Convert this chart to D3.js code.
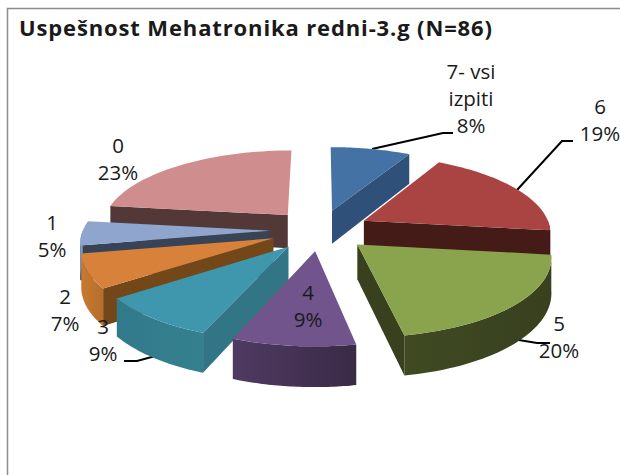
<!DOCTYPE html>
<html>
<head>
<meta charset="utf-8">
<script src="https://cdn.jsdelivr.net/npm/d3@7"></script>
<style>
  html, body { margin: 0; padding: 0; background: #fff; overflow: hidden; }
  text { font-family: "Open Sans", sans-serif; fill: #1a1a1a; }
</style>
</head>
<body>
<svg id="chart"></svg>
<script>
// Chart values, clockwise from 12 o'clock
const categories = ["7- vsi izpiti", "6", "5", "4", "3", "2", "1", "0"];
const percents = [8, 19, 20, 9, 9, 7, 5, 23];

// Colours per slice
const topColors = ["#4472a4", "#a94442", "#8aa44e", "#70548b", "#3f97ae", "#d8813b", "#8fa5cd", "#cf8e8d"];
const wallColors = ["#2f5078", "#451b18", "#38401e", "#3f2d4e", "#317586", "#744719", "#374357", "#533838"];
const rimFrom = ["#2f5078", "#451b18", "#3f4a22", "#4f3a62", "#317a8c", "#c9792f", "#8096bb", "#533838"];
const rimTo = ["#2f5078", "#451b18", "#38401e", "#3a2a46", "#35808f", "#b56f2c", "#8096bb", "#533838"];

// Label placement, one per slice, lines are split by hand like the original
const labelLines = [["7- vsi", "izpiti", "8%"], ["6", "19%"], ["5", "20%"], ["4", "9%"], ["3", "9%"], ["2", "7%"], ["1", "5%"], ["0", "23%"]];
const labelPos = [[471, 79], [600, 114], [559, 331], [308, 300], [103, 334], [65, 304], [52, 230], [118, 153]];
const labelStep = 27;
const leaders = [
  [[372, 149], [443, 133], [453, 133]],
  [[517, 190], [562, 141], [573, 141]],
  [[500, 337], [537, 343], [550, 343]],
  null,
  [[170, 352], [137, 361], [124, 361]],
  null, null, null
];

// Set up the SVG container
const svgWidth = 620;
const svgHeight = 475;
const svg = d3.select("#chart")
  .attr("width", svgWidth)
  .attr("height", svgHeight);

// Pie geometry
const cx = 320;
const cy = 230;
const radius = 187;
const explode = 50;
const squash = 0.41;
const depth = 34;
const perspective = 0.0007;

const pie = d3.pie().sort(null).value(d => d)(percents);

// plane coords to screen, near things get bigger
function project(x, y, z) {
  const s = 1 / (1 + y * perspective);
  return [cx + x * s, cy - y * squash * s + z * s];
}

function polar(offX, offY, r, a) {
  return [offX + r * Math.sin(a), offY + r * Math.cos(a)];
}

const slices = pie.map((p, i) => {
  const mid = (p.startAngle + p.endAngle) / 2;
  return {
    i: i,
    a0: p.startAngle,
    a1: p.endAngle,
    mid: mid,
    ox: explode * Math.sin(mid),
    oy: explode * Math.cos(mid)
  };
});

// paint far slices first
const order = slices.slice().sort((a, b) => d3.descending(Math.cos(a.mid), Math.cos(b.mid)));

const line = d3.line();
const defs = svg.append("defs");

// Frame of the chart area, only top and left show in the picture
svg.append("rect").attr("width", svgWidth).attr("height", svgHeight).attr("fill", "#fff");
svg.append("path")
  .attr("d", "M7.5,475V8.5H620")
  .attr("fill", "none")
  .attr("stroke", "#8c8c8c")
  .attr("stroke-width", 1.5);

// Leader lines go under the pie so they come out from behind the slices
leaders.forEach(pts => {
  if (!pts) return;
  svg.append("path")
    .attr("d", line(pts))
    .attr("fill", "none")
    .attr("stroke", "#000")
    .attr("stroke-width", 2);
});

const pieLayer = svg.append("g");

order.forEach(d => {
  const g = pieLayer.append("g");
  const steps = d3.range(0, 41).map(k => d.a0 + (d.a1 - d.a0) * k / 40);
  const apex = [d.ox, d.oy];
  const rim = steps.map(a => polar(d.ox, d.oy, radius, a));

  const face = pts => line(pts.map(p => project(p[0], p[1], 0)).concat(
    pts.slice().reverse().map(p => project(p[0], p[1], depth)))) + "Z";

  // start wall faces us when sin(a0) < 0, end wall when sin(a1) > 0
  if (Math.sin(d.a0) < 0) {
    g.append("path").attr("d", face([apex, rim[0]])).attr("fill", wallColors[d.i]);
  }
  if (Math.sin(d.a1) > 0) {
    g.append("path").attr("d", face([apex, rim[rim.length - 1]])).attr("fill", wallColors[d.i]);
  }

  // outer wall, only the part in front
  const front = steps.filter(a => Math.cos(a) < 0);
  if (front.length > 1) {
    const frontRim = front.map(a => polar(d.ox, d.oy, radius, a));
    const gradId = "rim" + d.i;
    const grad = defs.append("linearGradient").attr("id", gradId);
    grad.append("stop").attr("offset", 0).attr("stop-color", rimFrom[d.i]);
    grad.append("stop").attr("offset", 1).attr("stop-color", rimTo[d.i]);
    g.append("path").attr("d", face(frontRim)).attr("fill", `url(#${gradId})`);
  }

  // top face
  const top = [apex].concat(rim).map(p => project(p[0], p[1], 0));
  g.append("path").attr("d", line(top) + "Z").attr("fill", topColors[d.i]);
});

// the lower label is cut off in the original
svg.append("clipPath").attr("id", "labelClip")
  .append("rect").attr("x", 0).attr("y", 0).attr("width", svgWidth).attr("height", 368);

// Labels
labelLines.forEach((lines, i) => {
  const t = svg.append("text")
    .attr("clip-path", "url(#labelClip)")
    .attr("text-anchor", "middle")
    .attr("font-size", 20.5);
  lines.forEach((s, k) => {
    t.append("tspan")
      .attr("x", labelPos[i][0])
      .attr("y", labelPos[i][1] + k * labelStep)
      .text(s);
  });
});

// Title
svg.append("text")
  .attr("x", 19)
  .attr("y", 36)
  .attr("font-size", 22)
  .attr("font-weight", 700)
  .attr("textLength", 473)
  .attr("lengthAdjust", "spacing")
  .text("Uspešnost Mehatronika redni-3.g (N=86)");
</script>
</body>
</html>
